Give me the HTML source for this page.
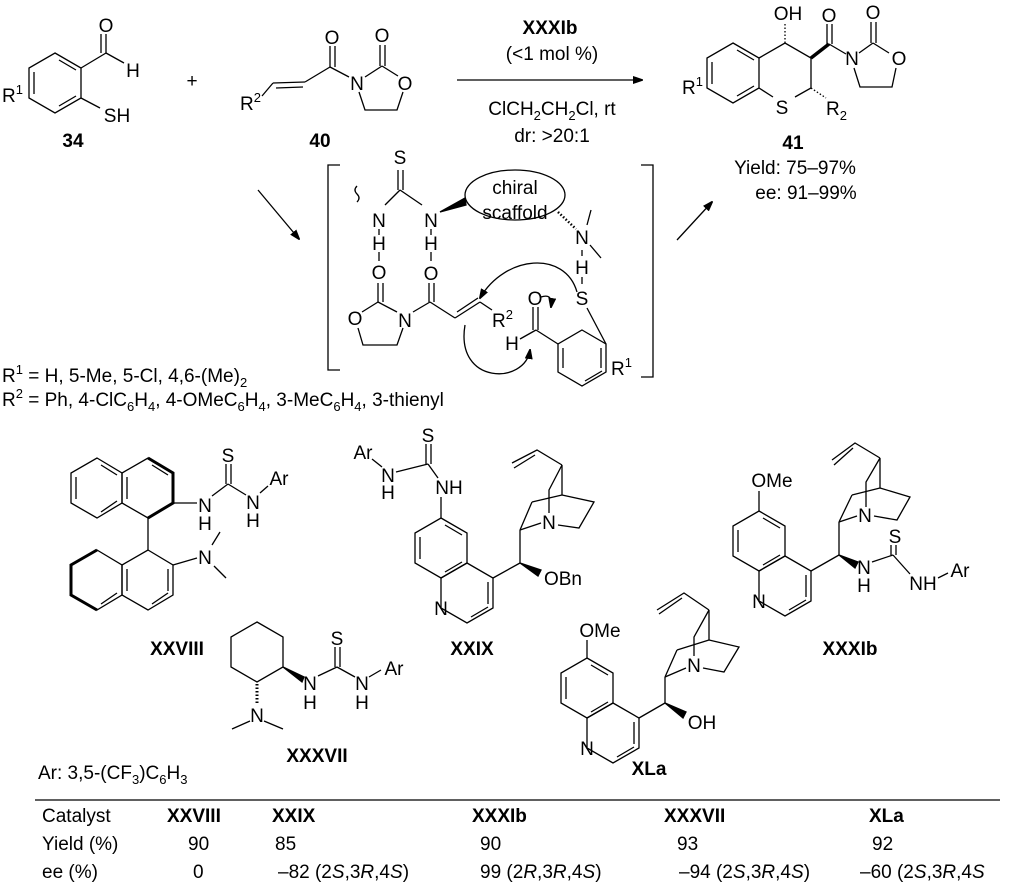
<!DOCTYPE html>
<html><head><meta charset="utf-8"><style>
body{margin:0;background:#fff}
svg{display:block}
text{font-family:"Liberation Sans",Arial,sans-serif;font-size:19px;fill:#000}
.b{font-weight:bold}
.m{text-anchor:middle}
.s{font-size:13px}
</style></head><body>
<svg width="1024" height="893" viewBox="0 0 1024 893" xmlns="http://www.w3.org/2000/svg">
<defs><marker id="ar" markerWidth="10" markerHeight="8" refX="9" refY="4" orient="auto" markerUnits="userSpaceOnUse"><path d="M0,0 L12,4 L0,8 z" fill="#000"/></marker></defs>
<g stroke="#000" stroke-width="1.3" fill="none">
<!-- 34 -->
<polygon points="55,53 81,68 81,98 55,113 29,98 29,68"/>
<line x1="59" y1="60" x2="76" y2="70"/><line x1="59" y1="106" x2="76" y2="96"/><line x1="34" y1="72" x2="34" y2="94"/>
<line x1="81" y1="68" x2="106" y2="53"/><line x1="106" y1="53" x2="106" y2="34"/><line x1="101" y1="53" x2="101" y2="34"/><line x1="106" y1="53" x2="124" y2="63"/>
<line x1="81" y1="98" x2="100" y2="108"/>
<!-- 40 -->
<line x1="262" y1="96" x2="273" y2="83"/><line x1="273" y1="83" x2="305" y2="82"/><line x1="276" y1="88" x2="303" y2="87"/>
<line x1="305" y1="82" x2="330" y2="67"/><line x1="330" y1="67" x2="330" y2="46"/><line x1="335" y1="67" x2="335" y2="46"/><line x1="330" y1="67" x2="349" y2="77"/>
<line x1="365" y1="77" x2="382" y2="66"/><line x1="380" y1="66" x2="380" y2="45"/><line x1="385" y1="66" x2="385" y2="45"/><line x1="382" y1="66" x2="398" y2="76"/>
<polyline points="403,92 397,110 365,110 359,92"/>
<!-- main arrow -->
<line x1="457" y1="80" x2="642" y2="80" marker-end="url(#ar)"/>
<!-- 41 -->
<polygon points="733,43 759,58 759,88 733,103 707,88 707,58"/>
<line x1="737" y1="50" x2="754" y2="60"/><line x1="737" y1="96" x2="754" y2="86"/><line x1="712" y1="62" x2="712" y2="84"/>
<polyline points="759,58 785,43 811,58 811,88 795,97"/><line x1="773" y1="97" x2="759" y2="88"/>
<line x1="785" y1="43" x2="785" y2="24" stroke-dasharray="1.5,2"/>
<line x1="811" y1="58" x2="829" y2="44" stroke-width="3.5"/>
<line x1="827" y1="44" x2="827" y2="24"/><line x1="832" y1="44" x2="832" y2="24"/><line x1="829" y1="44" x2="846" y2="54"/>
<line x1="859" y1="53" x2="873" y2="43"/><line x1="871" y1="43" x2="871" y2="22"/><line x1="876" y1="43" x2="876" y2="22"/><line x1="873" y1="43" x2="889" y2="53"/>
<polyline points="896,68 892,87 860,87 854,68"/>
<line x1="811" y1="88" x2="826" y2="98" stroke-dasharray="1.5,2"/>
<!-- arrows -->
<line x1="258" y1="190" x2="299" y2="239" marker-end="url(#ar)"/>
<line x1="677" y1="240" x2="712" y2="202" marker-end="url(#ar)"/>
<!-- brackets -->
<polyline points="340,165 328,165 328,370 340,370"/>
<polyline points="641,165 653,165 653,377 641,377"/>
<!-- intermediate -->
<path d="M357,202 q4,-4 0,-8 q-4,-4 0,-8" />
<line x1="385" y1="205" x2="400" y2="190"/><line x1="400" y1="190" x2="422" y2="205"/>
<line x1="398" y1="190" x2="398" y2="170"/><line x1="403" y1="190" x2="403" y2="170"/>
<polygon points="440,212 465,198 466,205" fill="#000"/>
<line x1="379" y1="229" x2="379" y2="235"/><line x1="431" y1="229" x2="431" y2="235"/>
<line x1="379" y1="252" x2="379" y2="261"/><line x1="431" y1="252" x2="431" y2="261"/>
<ellipse cx="515" cy="195" rx="50" ry="25"/>
<line x1="558" y1="212" x2="576" y2="229" stroke-dasharray="1.5,2" stroke-width="2.5"/>
<line x1="587" y1="225" x2="591" y2="210"/><line x1="590" y1="245" x2="601" y2="258"/>
<line x1="582" y1="250" x2="582" y2="256"/><line x1="582" y1="277" x2="582" y2="284"/>
<line x1="378" y1="302" x2="378" y2="283"/><line x1="383" y1="302" x2="383" y2="283"/>
<line x1="362" y1="312" x2="378" y2="302"/><line x1="378" y1="302" x2="397" y2="312"/>
<polyline points="358,328 363,345 397,345 403,328"/>
<line x1="413" y1="312" x2="430" y2="302"/><line x1="429" y1="302" x2="429" y2="283"/><line x1="434" y1="302" x2="434" y2="283"/>
<line x1="430" y1="302" x2="455" y2="318"/><line x1="455" y1="318" x2="480" y2="302"/><line x1="457" y1="312" x2="478" y2="298"/>
<line x1="480" y1="302" x2="492" y2="310"/>
<polygon points="582,330 606,344 606,372 582,386 558,372 558,344"/>
<line x1="601" y1="348" x2="601" y2="368"/><line x1="563" y1="348" x2="563" y2="368"/><line x1="585" y1="381" x2="602" y2="371"/>
<line x1="606" y1="344" x2="587" y2="308"/>
<line x1="558" y1="344" x2="536" y2="330"/><line x1="533" y1="330" x2="533" y2="307"/><line x1="538" y1="330" x2="538" y2="307"/><line x1="536" y1="330" x2="520" y2="339"/>
<path d="M577,292 C565,250 505,255 480,298" marker-end="url(#ar)"/>
<path d="M465,325 C455,385 525,385 530,350" marker-end="url(#ar)"/>
<path d="M541,297 q12,-4 10,10" marker-end="url(#ar)"/>
<!-- XXVIII -->
<polygon points="97,458 122,473 122,503 97,518 71,503 71,473"/>
<polygon points="148,458 173,473 173,503 148,518 122,503 122,473"/>
<polygon points="97,550 122,565 122,595 97,610 71,595 71,565"/>
<polygon points="148,550 173,565 173,595 148,610 122,595 122,565"/>
<polyline points="148,458 173,473 173,503 148,518" stroke-width="3"/>
<polyline points="97,550 71,565 71,595 97,610" stroke-width="3"/>
<line x1="101" y1="465" x2="117" y2="475"/><line x1="76" y1="477" x2="76" y2="499"/><line x1="101" y1="512" x2="117" y2="501"/>
<line x1="152" y1="465" x2="168" y2="475"/><line x1="127" y1="477" x2="127" y2="499"/>
<line x1="148" y1="518" x2="148" y2="550"/>
<line x1="152" y1="604" x2="168" y2="593"/><line x1="127" y1="569" x2="127" y2="591"/><line x1="101" y1="604" x2="117" y2="593"/><line x1="168" y1="569" x2="168" y2="591"/>
<line x1="173" y1="503" x2="197" y2="503"/><line x1="212" y1="496" x2="228" y2="484"/><line x1="228" y1="484" x2="246" y2="495"/>
<line x1="226" y1="484" x2="226" y2="464"/><line x1="231" y1="484" x2="231" y2="464"/><line x1="260" y1="493" x2="268" y2="486"/>
<line x1="173" y1="565" x2="197" y2="558"/><line x1="212" y1="545" x2="220" y2="532"/><line x1="214" y1="566" x2="226" y2="578"/>
<!-- XXXVII -->
<polygon points="257,622 283,637 283,667 257,682 231,667 231,637"/>
<polygon points="283,667 304,677 302,682" fill="#000"/>
<line x1="257" y1="684" x2="257" y2="705" stroke-dasharray="1.5,2" stroke-width="3"/>
<line x1="250" y1="721" x2="232" y2="729"/><line x1="264" y1="721" x2="283" y2="729"/>
<line x1="318" y1="676" x2="337" y2="667"/><line x1="337" y1="667" x2="355" y2="677"/>
<line x1="335" y1="667" x2="335" y2="647"/><line x1="340" y1="667" x2="340" y2="647"/><line x1="369" y1="677" x2="381" y2="670"/>
<!-- XXIX -->
<polygon points="441,518 467,533 467,563 441,578 415,563 415,533"/>
<polygon points="467,563 493,578 493,608 467,623 441,608 441,578"/>
<line x1="420" y1="537" x2="420" y2="559"/><line x1="445" y1="525" x2="462" y2="535"/><line x1="445" y1="572" x2="462" y2="562"/>
<line x1="488" y1="582" x2="488" y2="604"/><line x1="471" y1="617" x2="488" y2="607"/>
<line x1="441" y1="518" x2="441" y2="497"/>
<line x1="438" y1="478" x2="428" y2="464"/>
<line x1="426" y1="464" x2="426" y2="444"/><line x1="431" y1="464" x2="431" y2="444"/>
<line x1="428" y1="464" x2="396" y2="472"/><line x1="372" y1="459" x2="382" y2="467"/>
<line x1="493" y1="578" x2="520" y2="563"/><polygon points="520,563 541,570 538,576" fill="#000"/>
<line x1="520" y1="563" x2="520" y2="530"/><line x1="520" y1="530" x2="541" y2="523"/><line x1="520" y1="530" x2="532" y2="502"/>
<line x1="532" y1="502" x2="562" y2="495"/><line x1="562" y1="465" x2="562" y2="495"/><polyline points="562,495 594,502 579,528 558,525"/>
<polyline points="562,465 549,490 549,513"/>
<polyline points="562,465 537,450 512,463"/><line x1="535" y1="455" x2="514" y2="468"/>
<!-- XXXIb -->
<polygon points="759,511 785,526 785,556 759,571 733,556 733,526"/>
<polygon points="785,556 811,571 811,601 785,616 759,601 759,571"/>
<line x1="738" y1="530" x2="738" y2="552"/><line x1="763" y1="518" x2="780" y2="528"/><line x1="763" y1="565" x2="780" y2="555"/>
<line x1="806" y1="575" x2="806" y2="597"/><line x1="789" y1="610" x2="806" y2="600"/>
<line x1="759" y1="511" x2="759" y2="491"/>
<line x1="811" y1="571" x2="839" y2="555"/><polygon points="839,555 858,562 855,568" fill="#000"/>
<line x1="839" y1="555" x2="839" y2="522"/><line x1="839" y1="522" x2="857" y2="516"/><line x1="839" y1="522" x2="852" y2="495"/>
<line x1="852" y1="495" x2="880" y2="488"/><line x1="880" y1="458" x2="880" y2="488"/><polyline points="880,488 910,497 897,520 874,516"/>
<polyline points="880,458 866,482 866,507"/>
<polyline points="880,458 855,443 832,460"/><line x1="853" y1="448" x2="834" y2="465"/>
<line x1="872" y1="562" x2="893" y2="555"/><line x1="893" y1="555" x2="910" y2="574"/>
<line x1="891" y1="555" x2="891" y2="545"/><line x1="896" y1="555" x2="896" y2="545"/>
<line x1="938" y1="578" x2="948" y2="573"/>
<!-- XLa -->
<polygon points="587,658 613,673 613,703 587,718 561,703 561,673"/>
<polygon points="613,703 639,718 639,748 613,763 587,748 587,718"/>
<line x1="566" y1="677" x2="566" y2="699"/><line x1="591" y1="665" x2="608" y2="675"/><line x1="591" y1="712" x2="608" y2="702"/>
<line x1="634" y1="722" x2="634" y2="744"/><line x1="617" y1="757" x2="634" y2="747"/>
<line x1="587" y1="658" x2="587" y2="640"/>
<line x1="639" y1="718" x2="665" y2="703"/><polygon points="665,703 686,712 683,718" fill="#000"/>
<line x1="665" y1="703" x2="665" y2="677"/><line x1="665" y1="677" x2="686" y2="668"/><line x1="665" y1="677" x2="677" y2="650"/>
<line x1="677" y1="650" x2="709" y2="640"/><line x1="709" y1="610" x2="709" y2="640"/><polyline points="709,640 739,647 724,672 703,668"/>
<polyline points="709,610 694,637 694,656"/>
<polyline points="709,610 684,593 657,610"/><line x1="682" y1="598" x2="659" y2="614"/>
<!-- table line -->
<line x1="35" y1="800" x2="1000" y2="800" stroke-width="1.2"/>
</g>
<g>
<text x="106" y="32" class="m">O</text><text x="133" y="77" class="m">H</text><text x="117" y="122" class="m">SH</text>
<text x="2" y="102">R<tspan class="s" dy="-8">1</tspan></text>
<text x="73" y="147" class="m b">34</text>
<text x="192" y="87" class="m">+</text>
<text x="240" y="110">R<tspan class="s" dy="-8">2</tspan></text>
<text x="332" y="44" class="m">O</text><text x="382" y="42" class="m">O</text>
<text x="357" y="90" class="m">N</text><text x="405" y="90" class="m">O</text>
<text x="320" y="147" class="m b">40</text>
<text x="550" y="34" class="m b">XXXIb</text>
<text x="552" y="60" class="m">(&lt;1 mol %)</text>
<text x="552" y="115" class="m">ClCH<tspan class="s" dy="5">2</tspan><tspan dy="-5">CH</tspan><tspan class="s" dy="5">2</tspan><tspan dy="-5">Cl, rt</tspan></text>
<text x="552" y="142" class="m">dr: &gt;20:1</text>
<text x="788" y="20" class="m">OH</text><text x="829" y="22" class="m">O</text><text x="873" y="19" class="m">O</text>
<text x="682" y="94">R<tspan class="s" dy="-8">1</tspan></text>
<text x="852" y="65" class="m">N</text><text x="899" y="65" class="m">O</text>
<text x="782" y="114" class="m">S</text><text x="826" y="115">R<tspan class="s" dy="5">2</tspan></text>
<text x="793" y="149" class="m b">41</text>
<text x="795" y="174" class="m">Yield: 75–97%</text>
<text x="806" y="199" class="m">ee: 91–99%</text>
<text x="400" y="164" class="m">S</text>
<text x="379" y="227" class="m">N</text><text x="431" y="227" class="m">N</text>
<text x="379" y="250" class="m">H</text><text x="431" y="250" class="m">H</text>
<text x="379" y="279" class="m">O</text><text x="431" y="280" class="m">O</text>
<text x="515" y="194" class="m">chiral</text><text x="515" y="219" class="m">scaffold</text>
<text x="582" y="244" class="m">N</text><text x="582" y="274" class="m">H</text><text x="582" y="305" class="m">S</text>
<text x="355" y="325" class="m">O</text><text x="405" y="327" class="m">N</text>
<text x="492" y="327">R<tspan class="s" dy="-8">2</tspan></text>
<text x="535" y="305" class="m">O</text><text x="512" y="350" class="m">H</text>
<text x="611" y="375">R<tspan class="s" dy="-8">1</tspan></text>
<text x="2" y="382">R<tspan class="s" dy="-8">1</tspan><tspan dy="8"> = H, 5-Me, 5-Cl, 4,6-(Me)</tspan><tspan class="s" dy="5">2</tspan></text>
<text x="2" y="406">R<tspan class="s" dy="-8">2</tspan><tspan dy="8"> = Ph, 4-ClC</tspan><tspan class="s" dy="5">6</tspan><tspan dy="-5">H</tspan><tspan class="s" dy="5">4</tspan><tspan dy="-5">, 4-OMeC</tspan><tspan class="s" dy="5">6</tspan><tspan dy="-5">H</tspan><tspan class="s" dy="5">4</tspan><tspan dy="-5">, 3-MeC</tspan><tspan class="s" dy="5">6</tspan><tspan dy="-5">H</tspan><tspan class="s" dy="5">4</tspan><tspan dy="-5">, 3-thienyl</tspan></text>
<!-- XXVIII labels -->
<text x="228" y="462" class="m">S</text>
<text x="205" y="512" class="m">N</text><text x="205" y="530" class="m">H</text>
<text x="253" y="509" class="m">N</text><text x="253" y="527" class="m">H</text>
<text x="279" y="485" class="m">Ar</text>
<text x="205" y="564" class="m">N</text>
<text x="177" y="655" class="m b">XXVIII</text>
<!-- XXXVII -->
<text x="337" y="645" class="m">S</text>
<text x="310" y="690" class="m">N</text><text x="310" y="709" class="m">H</text>
<text x="362" y="690" class="m">N</text><text x="362" y="709" class="m">H</text>
<text x="394" y="675" class="m">Ar</text>
<text x="257" y="722" class="m">N</text>
<text x="317" y="762" class="m b">XXXVII</text>
<text x="38" y="779">Ar: 3,5-(CF<tspan class="s" dy="5">3</tspan><tspan dy="-5">)C</tspan><tspan class="s" dy="5">6</tspan><tspan dy="-5">H</tspan><tspan class="s" dy="5">3</tspan></text>
<!-- XXIX -->
<text x="428" y="442" class="m">S</text>
<text x="449" y="494" class="m">NH</text>
<text x="388" y="482" class="m">N</text><text x="388" y="499" class="m">H</text>
<text x="363" y="459" class="m">Ar</text>
<text x="563" y="585" class="m">OBn</text>
<text x="549" y="529" class="m">N</text>
<text x="441" y="615" class="m">N</text>
<text x="472" y="655" class="m b">XXIX</text>
<!-- XXXIb -->
<text x="772" y="487" class="m">OMe</text>
<text x="759" y="608" class="m">N</text>
<text x="865" y="522" class="m">N</text>
<text x="864" y="574" class="m">N</text><text x="864" y="592" class="m">H</text>
<text x="895" y="543" class="m">S</text>
<text x="923" y="590" class="m">NH</text>
<text x="960" y="577" class="m">Ar</text>
<text x="850" y="655" class="m b">XXXIb</text>
<!-- XLa -->
<text x="600" y="637" class="m">OMe</text>
<text x="587" y="755" class="m">N</text>
<text x="694" y="672" class="m">N</text>
<text x="702" y="729" class="m">OH</text>
<text x="649" y="775" class="m b">XLa</text>
<!-- table -->
<text x="42" y="822">Catalyst</text>
<text x="167" y="822" class="b">XXVIII</text>
<text x="272" y="822" class="b">XXIX</text>
<text x="472" y="822" class="b">XXXIb</text>
<text x="664" y="822" class="b">XXXVII</text>
<text x="869" y="822" class="b">XLa</text>
<text x="42" y="850">Yield (%)</text>
<text x="188" y="850">90</text><text x="275" y="850">85</text><text x="480" y="850">90</text><text x="677" y="850">93</text><text x="872" y="850">92</text>
<text x="42" y="878">ee (%)</text>
<text x="193" y="878">0</text>
<text x="278" y="878">–82 (2<tspan font-style="italic">S</tspan>,3<tspan font-style="italic">R</tspan>,4<tspan font-style="italic">S</tspan>)</text>
<text x="480" y="878">99 (2<tspan font-style="italic">R</tspan>,3<tspan font-style="italic">R</tspan>,4<tspan font-style="italic">S</tspan>)</text>
<text x="679" y="878">–94 (2<tspan font-style="italic">S</tspan>,3<tspan font-style="italic">R</tspan>,4<tspan font-style="italic">S</tspan>)</text>
<text x="860" y="878">–60 (2<tspan font-style="italic">S</tspan>,3<tspan font-style="italic">R</tspan>,4<tspan font-style="italic">S</tspan></text>
</g>
</svg>
</body></html>
